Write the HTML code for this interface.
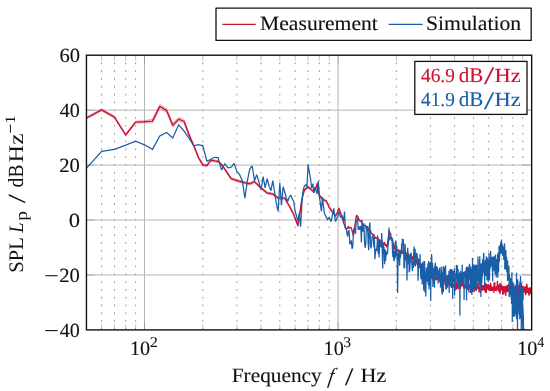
<!DOCTYPE html>
<html><head><meta charset="utf-8"><title>SPL spectrum</title>
<style>html,body{margin:0;padding:0;background:#fff;width:550px;height:391px;overflow:hidden;font-family:"Liberation Serif",serif;}</style></head>
<body>
<svg width="550" height="391" viewBox="0 0 550 391" style="display:block;position:absolute;left:0;top:0;will-change:transform;text-rendering:geometricPrecision;font-family:'Liberation Serif',serif;">
<rect x="0" y="0" width="550" height="391" fill="#fff"/>
<defs><clipPath id="c"><rect x="86.45" y="55.2" width="445.2" height="274.7"/></clipPath><mask id="tm" maskUnits="userSpaceOnUse" x="0" y="0" width="550" height="391"><rect x="0" y="0" width="550" height="391" fill="#fff"/></mask></defs>
<path d="M101.56,329.9 V55.2 M114.51,329.9 V55.2 M125.74,329.9 V55.2 M135.64,329.9 V55.2 M202.77,329.9 V55.2 M236.86,329.9 V55.2 M261.04,329.9 V55.2 M279.80,329.9 V55.2 M295.13,329.9 V55.2 M308.09,329.9 V55.2 M319.32,329.9 V55.2 M329.22,329.9 V55.2 M396.35,329.9 V55.2 M430.43,329.9 V55.2 M454.62,329.9 V55.2 M473.38,329.9 V55.2 M488.71,329.9 V55.2 M501.66,329.9 V55.2 M512.89,329.9 V55.2 M522.79,329.9 V55.2" stroke="#969696" stroke-width="1" stroke-dasharray="1.7 6.11" stroke-dashoffset="7.66" fill="none"/>
<path d="M144.50,329.9 V55.2 M338.07,329.9 V55.2 M86.45,110.14 H531.65 M86.45,165.08 H531.65 M86.45,220.02 H531.65 M86.45,274.96 H531.65" stroke="#b2b2b2" stroke-width="0.95" fill="none"/>
<path d="M144.50,329.9 v-8.2 M144.50,55.2 v8.2 M338.07,329.9 v-8.2 M338.07,55.2 v8.2 M86.45,110.14 h8.2 M531.65,110.14 h-8.2 M86.45,165.08 h8.2 M531.65,165.08 h-8.2 M86.45,220.02 h8.2 M531.65,220.02 h-8.2 M86.45,274.96 h8.2 M531.65,274.96 h-8.2" stroke="#808080" stroke-width="0.5" fill="none"/>
<path d="M101.56,329.9 v-5.4 M101.56,55.2 v5.4 M114.51,329.9 v-5.4 M114.51,55.2 v5.4 M125.74,329.9 v-5.4 M125.74,55.2 v5.4 M135.64,329.9 v-5.4 M135.64,55.2 v5.4 M202.77,329.9 v-5.4 M202.77,55.2 v5.4 M236.86,329.9 v-5.4 M236.86,55.2 v5.4 M261.04,329.9 v-5.4 M261.04,55.2 v5.4 M279.80,329.9 v-5.4 M279.80,55.2 v5.4 M295.13,329.9 v-5.4 M295.13,55.2 v5.4 M308.09,329.9 v-5.4 M308.09,55.2 v5.4 M319.32,329.9 v-5.4 M319.32,55.2 v5.4 M329.22,329.9 v-5.4 M329.22,55.2 v5.4 M396.35,329.9 v-5.4 M396.35,55.2 v5.4 M430.43,329.9 v-5.4 M430.43,55.2 v5.4 M454.62,329.9 v-5.4 M454.62,55.2 v5.4 M473.38,329.9 v-5.4 M473.38,55.2 v5.4 M488.71,329.9 v-5.4 M488.71,55.2 v5.4 M501.66,329.9 v-5.4 M501.66,55.2 v5.4 M512.89,329.9 v-5.4 M512.89,55.2 v5.4 M522.79,329.9 v-5.4 M522.79,55.2 v5.4" stroke="#808080" stroke-width="0.45" fill="none"/>
<g clip-path="url(#c)" fill="none" stroke-linejoin="round">
<path d="M86.2,119.3 L101.6,110.9 L114.5,118.3 L125.7,136.1 L135.6,123.2 L144.5,122.8 L152.5,123.1 L159.8,108.4 L166.6,112.4 L172.8,127.2 L178.6,121.2 L184.0,123.3 L189.1,137.0 L193.9,147.1 L198.5,158.7 L202.8,166.0 L206.9,166.7 L210.8,161.3 L214.5,162.0 L218.1,162.6 L221.5,165.6 L224.8,170.3 L228.0,175.1 L231.1,179.8 L234.0,180.7 L236.9,181.6 L239.6,182.4 L242.3,183.1 L244.9,183.8 L247.4,184.4 L249.8,184.9 L252.2,183.8 L254.5,182.8 L256.7,184.9 L258.9,187.0 L261.0,189.0 L263.1,190.7 L265.1,192.4 L267.1,194.1 L269.1,194.4 L270.9,194.8 L272.8,195.1 L274.6,196.5 L276.4,197.9 L278.1,199.2 L279.8,199.2 L281.5,199.2 L283.1,199.2 L284.7,199.2 L286.3,201.9 L287.8,204.5 L289.3,207.1 L290.8,210.0 L292.3,212.8 L293.7,215.6 L295.1,219.3 L296.5,223.0 L297.9,226.6 L299.2,218.6 L300.6,209.3 L301.9,200.2 L303.1,195.6 L304.4,191.0 L305.7,190.0 L306.9,188.9 L308.1,187.9 L309.3,189.0 L310.5,190.0 L311.6,191.0 L312.8,192.1 L313.9,193.1 L315.0,191.0 L316.1,189.0 L317.2,184.9 L318.3,190.5 L319.3,196.1 L320.4,197.5 L321.4,198.9 L322.4,200.2 L323.4,200.7 L324.4,201.3 L325.4,201.8 L326.4,202.3 L327.3,204.4 L328.3,206.4 L329.2,208.4 L330.1,209.8 L331.1,211.1 L332.0,212.5 L332.9,213.6 L333.8,214.7 L334.6,215.8 L335.5,216.9 L336.4,215.5 L337.2,214.1 L338.1,211.6" stroke="#cc1233" stroke-opacity="0.45" stroke-width="0.7"/>
<path d="M86.2,117.1 L101.6,108.7 L114.5,116.1 L125.7,133.9 L135.6,121.0 L144.5,120.6 L152.5,119.1 L159.8,104.4 L166.6,108.4 L172.8,123.2 L178.6,117.2 L184.0,119.3 L189.1,133.0 L193.9,144.9 L198.5,156.5 L202.8,163.8 L206.9,164.5 L210.8,159.1 L214.5,159.8 L218.1,160.4 L221.5,163.4 L224.8,168.1 L228.0,172.9 L231.1,177.6 L234.0,178.5 L236.9,179.4 L239.6,180.2 L242.3,180.9 L244.9,181.6 L247.4,182.2 L249.8,182.7 L252.2,181.6 L254.5,180.6 L256.7,182.7 L258.9,184.8 L261.0,186.8 L263.1,188.5 L265.1,190.2 L267.1,191.9 L269.1,192.2 L270.9,192.6 L272.8,192.9 L274.6,194.3 L276.4,195.7 L278.1,197.0 L279.8,197.0 L281.5,197.0 L283.1,197.0 L284.7,197.0 L286.3,199.7 L287.8,202.3 L289.3,204.9 L290.8,207.8 L292.3,210.6 L293.7,213.4 L295.1,217.1 L296.5,220.8 L297.9,224.4 L299.2,216.4 L300.6,207.1 L301.9,198.0 L303.1,193.4 L304.4,188.8 L305.7,187.8 L306.9,186.7 L308.1,185.7 L309.3,186.8 L310.5,187.8 L311.6,188.8 L312.8,189.9 L313.9,190.9 L315.0,188.8 L316.1,186.8 L317.2,182.7 L318.3,188.3 L319.3,193.9 L320.4,195.3 L321.4,196.7 L322.4,198.0 L323.4,198.5 L324.4,199.1 L325.4,199.6 L326.4,200.1 L327.3,202.2 L328.3,204.2 L329.2,206.2 L330.1,207.6 L331.1,208.9 L332.0,210.3 L332.9,211.4 L333.8,212.5 L334.6,213.6 L335.5,214.7 L336.4,213.3 L337.2,211.9 L338.1,209.4" stroke="#cc1233" stroke-opacity="0.45" stroke-width="0.7"/>
<path d="M86.2,119.3 L101.6,110.9 L114.5,118.3 L125.7,136.1 L135.6,123.2 L144.5,122.8 L152.5,123.1 L159.8,108.4 L166.6,112.4 L172.8,127.2 L178.6,121.2 L184.0,123.3 L189.1,137.0 L193.9,147.1 L198.5,158.7 L202.8,166.0 L206.9,166.7 L210.8,161.3 L214.5,162.0 L218.1,162.6 L221.5,165.6 L224.8,170.3 L228.0,175.1 L231.1,179.8 L234.0,180.7 L236.9,181.6 L239.6,182.4 L242.3,183.1 L244.9,183.8 L247.4,184.4 L249.8,184.9 L252.2,183.8 L254.5,182.8 L256.7,184.9 L258.9,187.0 L261.0,189.0 L263.1,190.7 L265.1,192.4 L267.1,194.1 L269.1,194.4 L270.9,194.8 L272.8,195.1 L274.6,196.5 L276.4,197.9 L278.1,199.2 L279.8,199.2 L281.5,199.2 L283.1,199.2 L284.7,199.2 L286.3,201.9 L287.8,204.5 L289.3,207.1 L290.8,210.0 L292.3,212.8 L293.7,215.6 L295.1,219.3 L296.5,223.0 L297.9,226.6 L299.2,218.6 L300.6,209.3 L301.9,200.2 L303.1,195.6 L304.4,191.0 L305.7,190.0 L306.9,188.9 L308.1,187.9 L309.3,189.0 L310.5,190.0 L311.6,191.0 L312.8,192.1 L313.9,193.1 L315.0,191.0 L316.1,189.0 L317.2,184.9 L318.3,190.5 L319.3,196.1 L320.4,197.5 L321.4,198.9 L322.4,200.2 L323.4,200.7 L324.4,201.3 L325.4,201.8 L326.4,202.3 L327.3,204.4 L328.3,206.4 L329.2,208.4 L330.1,209.8 L331.1,211.1 L332.0,212.5 L332.9,213.6 L333.8,214.7 L334.6,215.8 L335.5,216.9 L336.4,215.5 L337.2,214.1 L338.1,211.6 L338.1,209.4 L337.2,211.9 L336.4,213.3 L335.5,214.7 L334.6,213.6 L333.8,212.5 L332.9,211.4 L332.0,210.3 L331.1,208.9 L330.1,207.6 L329.2,206.2 L328.3,204.2 L327.3,202.2 L326.4,200.1 L325.4,199.6 L324.4,199.1 L323.4,198.5 L322.4,198.0 L321.4,196.7 L320.4,195.3 L319.3,193.9 L318.3,188.3 L317.2,182.7 L316.1,186.8 L315.0,188.8 L313.9,190.9 L312.8,189.9 L311.6,188.8 L310.5,187.8 L309.3,186.8 L308.1,185.7 L306.9,186.7 L305.7,187.8 L304.4,188.8 L303.1,193.4 L301.9,198.0 L300.6,207.1 L299.2,216.4 L297.9,224.4 L296.5,220.8 L295.1,217.1 L293.7,213.4 L292.3,210.6 L290.8,207.8 L289.3,204.9 L287.8,202.3 L286.3,199.7 L284.7,197.0 L283.1,197.0 L281.5,197.0 L279.8,197.0 L278.1,197.0 L276.4,195.7 L274.6,194.3 L272.8,192.9 L270.9,192.6 L269.1,192.2 L267.1,191.9 L265.1,190.2 L263.1,188.5 L261.0,186.8 L258.9,184.8 L256.7,182.7 L254.5,180.6 L252.2,181.6 L249.8,182.7 L247.4,182.2 L244.9,181.6 L242.3,180.9 L239.6,180.2 L236.9,179.4 L234.0,178.5 L231.1,177.6 L228.0,172.9 L224.8,168.1 L221.5,163.4 L218.1,160.4 L214.5,159.8 L210.8,159.1 L206.9,164.5 L202.8,163.8 L198.5,156.5 L193.9,144.9 L189.1,133.0 L184.0,119.3 L178.6,117.2 L172.8,123.2 L166.6,108.4 L159.8,104.4 L152.5,119.1 L144.5,120.6 L135.6,121.0 L125.7,133.9 L114.5,116.1 L101.6,108.7 L86.2,117.1 Z" fill="#cc1233" fill-opacity="0.12" stroke="none"/>
<path d="M86.2,118.2 L101.6,109.8 L114.5,117.2 L125.7,135.0 L135.6,122.1 L144.5,121.7 L152.5,121.1 L159.8,106.4 L166.6,110.4 L172.8,125.2 L178.6,119.2 L184.0,121.3 L189.1,135.0 L193.9,146.0 L198.5,157.6 L202.8,164.9 L206.9,165.6 L210.8,160.2 L214.5,160.9 L218.1,161.5 L221.5,164.5 L224.8,169.2 L228.0,174.0 L231.1,178.7 L234.0,179.6 L236.9,180.5 L239.6,181.3 L242.3,182.0 L244.9,182.7 L247.4,183.3 L249.8,183.8 L252.2,182.7 L254.5,181.7 L256.7,183.8 L258.9,185.9 L261.0,187.9 L263.1,189.6 L265.1,191.3 L267.1,193.0 L269.1,193.3 L270.9,193.7 L272.8,194.0 L274.6,195.4 L276.4,196.8 L278.1,198.1 L279.8,198.1 L281.5,198.1 L283.1,198.1 L284.7,198.1 L286.3,200.8 L287.8,203.4 L289.3,206.0 L290.8,208.9 L292.3,211.7 L293.7,214.5 L295.1,218.2 L296.5,221.9 L297.9,225.5 L299.2,217.5 L300.6,208.2 L301.9,199.1 L303.1,194.5 L304.4,189.9 L305.7,188.9 L306.9,187.8 L308.1,186.8 L309.3,187.9 L310.5,188.9 L311.6,189.9 L312.8,191.0 L313.9,192.0 L315.0,189.9 L316.1,187.9 L317.2,183.8 L318.3,189.4 L319.3,195.0 L320.4,196.4 L321.4,197.8 L322.4,199.1 L323.4,199.6 L324.4,200.2 L325.4,200.7 L326.4,201.2 L327.3,203.3 L328.3,205.3 L329.2,207.3 L330.1,208.7 L331.1,210.0 L332.0,211.4 L332.9,212.5 L333.8,213.6 L334.6,214.7 L335.5,215.8 L336.4,214.4 L337.2,213.0 L338.1,210.5 L338.9,208.2 L339.7,210.6 L340.6,212.9 L341.4,215.6 L342.2,217.9 L343.0,220.5 L343.8,223.5 L344.5,224.9 L345.3,227.3 L346.1,228.6 L346.8,228.9 L347.6,228.4 L348.3,226.5 L349.1,228.2 L349.8,227.5 L350.6,227.7 L351.3,228.1 L352.0,230.3 L352.7,233.1 L353.4,235.6 L354.1,231.4 L354.8,226.4 L355.5,222.1 L356.2,216.4 L356.8,215.4 L357.5,216.6 L358.2,216.8 L358.8,219.8 L359.5,220.0 L360.1,221.4 L360.8,220.8 L361.4,221.6 L362.0,222.8 L362.7,223.8 L363.3,225.0 L363.9,225.3 L364.5,225.3 L365.2,225.5 L365.8,226.4 L366.4,228.4 L367.0,227.4 L367.6,228.9 L368.1,229.6 L368.7,228.6 L369.3,230.6 L369.9,232.4 L370.5,230.6 L371.0,232.7 L371.6,233.6 L372.2,233.6 L372.7,235.1 L373.3,235.1 L373.8,234.4 L374.4,236.6 L374.9,236.9 L375.5,237.5 L376.0,238.3 L376.5,238.0 L377.1,238.4 L377.6,237.7 L378.1,239.8 L378.6,239.3 L379.1,240.0 L379.7,239.9 L380.2,240.6 L380.7,241.3 L381.2,243.1 L381.7,240.8 L382.2,241.6 L382.7,243.4 L383.2,244.7 L383.7,244.3 L384.2,242.7 L384.6,242.6 L385.1,245.2 L385.6,244.6 L386.1,244.6 L386.6,246.6 L387.0,247.1 L387.5,244.1 L388.0,240.3 L388.4,236.7 L388.9,233.8 L389.3,230.9 L389.8,232.3 L390.2,233.9 L390.7,233.8 L391.1,237.6 L391.6,238.8 L392.0,239.9 L392.5,239.4 L392.9,241.9 L393.4,244.5 L393.8,243.8 L394.2,246.6 L394.6,248.3 L395.1,246.8 L395.5,249.5 L395.9,249.0 L396.3,248.7 L396.8,249.5 L397.2,250.0 L397.6,250.0 L398.0,251.1 L398.4,250.0 L398.8,250.3 L399.2,251.6 L399.6,251.0 L400.0,250.4 L400.4,252.0 L400.8,252.6 L401.2,251.2 L401.6,250.6 L402.0,251.7 L402.4,251.9 L402.8,251.8 L403.2,253.3 L403.6,251.5 L404.0,253.4 L404.4,251.5 L404.7,252.0 L405.1,253.2 L405.5,253.7 L405.9,253.6 L406.2,253.3 L406.6,253.2 L407.0,253.3 L407.4,253.7 L407.7,253.4 L408.1,254.1 L408.5,254.6 L408.8,254.5 L409.2,255.4 L409.5,255.6 L409.9,257.1 L410.3,256.0 L410.6,255.7 L411.0,256.1 L411.3,256.7 L411.7,257.8 L412.0,257.1 L412.4,258.0 L412.7,259.4 L413.1,256.2 L413.4,257.7 L413.8,259.1 L414.1,259.5 L414.4,259.7 L414.8,259.4 L415.1,260.9 L415.4,260.7 L415.8,260.0 L416.1,264.1 L416.4,261.7 L416.8,260.8 L417.1,261.6 L417.4,261.7 L417.8,262.2 L418.1,259.0 L418.4,262.2 L418.7,264.4 L419.0,261.9 L419.4,263.6 L419.7,265.2 L420.0,265.4 L420.3,266.7 L420.6,263.1 L421.0,265.3 L421.3,265.9 L421.6,267.6 L421.9,268.7 L422.2,264.3 L422.5,269.7 L422.8,266.9 L423.1,270.2 L423.4,267.8 L423.7,270.5 L424.0,272.3 L424.3,270.8 L424.6,271.6 L424.9,272.7 L425.2,272.1 L425.5,272.1 L425.8,274.5 L426.1,274.2 L426.4,272.7 L426.7,277.0 L427.0,272.2 L427.3,275.2 L427.6,273.9 L427.9,274.7 L428.2,275.8 L428.4,275.3 L428.7,276.0 L429.0,273.3 L429.3,273.5 L429.6,276.4 L429.9,274.5 L430.2,274.5 L430.4,274.1 L430.7,277.8 L431.0,277.2 L431.3,276.4 L431.5,275.1 L431.8,275.5 L432.1,278.8 L432.4,274.4 L432.6,278.9 L432.9,277.7 L433.2,277.9 L433.5,279.0 L433.7,279.6 L434.0,276.8 L434.3,283.5 L434.5,277.7 L434.8,279.4 L435.1,277.7 L435.3,278.5 L435.6,279.3 L435.9,277.6 L436.1,278.0 L436.4,279.6 L436.6,277.9 L436.9,279.8 L437.2,278.0 L437.4,276.5 L437.7,278.8 L437.9,279.1 L438.2,278.2 L438.4,277.9 L438.7,278.7 L439.0,279.3 L439.2,278.6 L439.5,278.9 L439.7,281.5 L440.0,279.5 L440.2,276.6 L440.5,277.9 L440.7,279.5 L441.0,278.1 L441.2,279.3 L441.4,281.9 L441.7,277.6 L441.9,282.1 L442.2,279.0 L442.4,279.5 L442.7,280.2 L442.9,279.1 L443.2,278.3 L443.4,280.0 L443.6,278.6 L443.9,281.5 L444.1,280.5 L444.3,276.9 L444.6,281.3 L444.8,279.6 L445.1,281.8 L445.3,284.8 L445.5,279.0 L445.8,280.6 L446.0,288.4 L446.2,281.5 L446.5,284.0 L446.7,282.1 L446.9,281.0 L447.2,284.1 L447.4,280.9 L447.6,283.8 L447.8,281.6 L448.1,284.4 L448.3,283.3 L448.5,284.4 L448.7,282.1 L449.0,283.2 L449.2,282.6 L449.4,282.3 L449.6,284.6 L449.9,284.4 L450.1,284.6 L450.3,283.8 L450.5,284.0 L450.7,283.0 L451.0,285.9 L451.2,286.9 L451.4,284.0 L451.6,284.4 L451.8,284.8 L452.1,285.7 L452.3,285.0 L452.5,283.3 L452.7,283.4 L452.9,285.7 L453.1,283.5 L453.3,286.9 L453.6,285.4 L453.8,285.2 L454.0,285.2 L454.2,285.2 L454.4,285.4 L454.6,284.2 L454.8,283.6 L455.0,283.9 L455.2,285.2 L455.5,289.9 L455.7,283.8 L455.9,286.6 L456.1,282.2 L456.3,286.5 L456.5,289.1 L456.7,285.0 L456.9,288.4 L457.1,285.3 L457.3,283.1 L457.5,283.9 L457.7,284.3 L457.9,281.3 L458.1,286.2 L458.3,285.1 L458.5,288.6 L458.7,286.2 L458.9,284.9 L459.1,281.8 L459.3,281.6 L459.5,285.1 L459.7,281.8 L459.9,283.2 L460.1,285.3 L460.3,285.8 L460.5,288.2 L460.7,287.5 L460.9,283.3 L461.1,284.8 L461.3,282.4 L461.5,281.7 L461.7,285.3 L461.9,284.0 L462.1,285.3 L462.2,284.2 L462.4,283.6 L462.6,285.5 L462.8,285.8 L463.0,282.9 L463.2,286.4 L463.4,286.7 L463.6,285.1 L463.8,285.2 L464.0,288.4 L464.1,285.0 L464.3,287.8 L464.5,288.6 L464.7,288.3 L464.9,285.9 L465.1,285.5 L465.3,287.7 L465.4,285.2 L465.6,286.9 L465.8,285.2 L466.0,281.1 L466.2,285.0 L466.4,281.8 L466.6,285.5 L466.7,285.4 L466.9,288.0 L467.1,285.8 L467.3,286.9 L467.5,287.1 L467.6,289.0 L467.8,285.9 L468.0,288.5 L468.2,284.5 L468.4,284.6 L468.5,287.3 L468.7,284.7 L468.9,292.1 L469.1,288.1 L469.2,287.3 L469.4,285.5 L469.6,286.7 L469.8,287.8 L469.9,287.1 L470.1,283.6 L470.3,281.8 L470.5,285.9 L470.6,284.1 L470.8,286.1 L471.0,286.8 L471.2,284.5 L471.3,286.6 L471.5,287.7 L471.7,286.1 L471.9,284.5 L472.0,285.7 L472.2,287.4 L472.4,290.4 L472.5,291.7 L472.7,282.9 L472.9,286.7 L473.0,287.2 L473.2,286.6 L473.4,288.0 L473.5,286.5 L473.7,284.6 L473.9,287.2 L474.0,285.7 L474.2,291.5 L474.4,284.0 L474.5,283.9 L474.7,286.7 L474.9,288.6 L475.0,284.0 L475.2,289.7 L475.4,287.3 L475.5,286.7 L475.7,286.8 L475.9,288.5 L476.0,283.5 L476.2,287.7 L476.4,287.6 L476.5,289.7 L476.7,285.8 L476.8,285.6 L477.0,287.2 L477.2,285.6 L477.3,286.6 L477.5,287.9 L477.6,286.7 L477.8,286.2 L478.0,285.4 L478.1,286.1 L478.3,288.7 L478.4,287.2 L478.6,284.7 L478.8,284.0 L478.9,287.3 L479.1,292.0 L479.2,289.4 L479.4,287.5 L479.5,287.1 L479.7,290.1 L479.8,289.0 L480.0,287.7 L480.2,288.4 L480.3,290.5 L480.5,288.7 L480.6,292.2 L480.8,287.5 L480.9,288.7 L481.1,289.5 L481.2,286.7 L481.4,284.9 L481.5,288.8 L481.7,286.4 L481.8,288.2 L482.0,288.1 L482.2,287.6 L482.3,289.7 L482.5,285.4 L482.6,286.9 L482.8,288.5 L482.9,290.2 L483.1,288.0 L483.2,288.5 L483.4,287.2 L483.5,289.2 L483.7,288.8 L483.8,287.2 L483.9,285.5 L484.1,285.7 L484.2,287.9 L484.4,289.7 L484.5,284.6 L484.7,290.5 L484.8,287.7 L485.0,287.5 L485.1,290.8 L485.3,286.9 L485.4,292.4 L485.6,287.3 L485.7,286.3 L485.9,283.4 L486.0,288.1 L486.1,287.5 L486.3,292.2 L486.4,286.4 L486.6,285.7 L486.7,288.6 L486.9,288.7 L487.0,284.8 L487.2,286.4 L487.3,286.7 L487.4,287.9 L487.6,287.0 L487.7,288.9 L487.9,286.2 L488.0,287.2 L488.1,289.3 L488.3,287.7 L488.4,284.8 L488.6,287.8 L488.7,285.5 L488.8,289.2 L489.0,289.4 L489.1,285.5 L489.3,287.2 L489.4,290.2 L489.5,288.3 L489.7,289.2 L489.8,289.8 L490.0,286.2 L490.1,290.2 L490.2,287.8 L490.4,284.6 L490.5,283.1 L490.6,289.5 L490.8,284.2 L490.9,288.9 L491.1,290.4 L491.2,287.5 L491.3,289.4 L491.5,286.4 L491.6,288.8 L491.7,287.7 L491.9,288.4 L492.0,289.8 L492.1,287.9 L492.3,290.6 L492.4,289.7 L492.5,288.2 L492.7,287.6 L492.8,289.3 L492.9,288.9 L493.1,288.4 L493.2,287.6 L493.3,287.5 L493.5,286.8 L493.6,288.9 L493.7,287.2 L493.9,290.4 L494.0,292.4 L494.1,283.3 L494.3,286.0 L494.4,289.8 L494.5,287.0 L494.7,289.7 L494.8,282.7 L494.9,287.3 L495.0,290.4 L495.2,289.6 L495.3,289.2 L495.4,289.5 L495.6,289.9 L495.7,289.6 L495.8,288.6 L496.0,289.2 L496.1,287.6 L496.2,288.3 L496.3,290.5 L496.5,286.8 L496.6,288.6 L496.7,287.0 L496.8,288.9 L497.0,287.3 L497.1,286.5 L497.2,288.1 L497.4,281.4 L497.5,283.5 L497.6,288.9 L497.7,287.6 L497.9,287.2 L498.0,287.2 L498.1,285.9 L498.2,289.6 L498.4,291.0 L498.5,288.8 L498.6,288.7 L498.7,285.1 L498.9,287.5 L499.0,288.6 L499.1,290.2 L499.2,288.8 L499.4,287.9 L499.5,285.3 L499.6,286.6 L499.7,288.4 L499.8,292.4 L500.0,283.5 L500.1,290.4 L500.2,293.6 L500.3,289.5 L500.5,288.0 L500.6,290.2 L500.7,289.3 L500.8,289.8 L500.9,287.6 L501.1,284.3 L501.2,288.5 L501.3,286.8 L501.4,289.1 L501.5,289.6 L501.7,289.5 L501.8,287.9 L501.9,286.0 L502.0,288.1 L502.1,286.3 L502.3,287.8 L502.4,291.3 L502.5,288.5 L502.6,288.1 L502.7,294.4 L502.9,288.9 L503.0,286.6 L503.1,292.1 L503.2,289.8 L503.3,291.2 L503.4,288.5 L503.6,289.2 L503.7,288.7 L503.8,286.7 L503.9,289.7 L504.0,293.5 L504.1,290.5 L504.3,288.8 L504.4,289.2 L504.5,291.3 L504.6,287.3 L504.7,287.3 L504.8,288.9 L505.0,289.9 L505.1,291.1 L505.2,286.4 L505.3,291.6 L505.4,289.0 L505.5,287.6 L505.7,287.2 L505.8,295.4 L505.9,287.0 L506.0,288.6 L506.1,288.6 L506.2,289.9 L506.3,288.5 L506.5,286.2 L506.6,288.8 L506.7,290.7 L506.8,291.5 L506.9,289.6 L507.0,286.3 L507.1,288.8 L507.2,286.9 L507.4,289.0 L507.5,289.5 L507.6,287.7 L507.7,285.5 L507.8,287.1 L507.9,288.3 L508.0,288.7 L508.1,291.7 L508.2,289.3 L508.4,288.8 L508.5,288.9 L508.6,284.5 L508.7,290.3 L508.8,287.9 L508.9,287.1 L509.0,286.9 L509.1,285.5 L509.2,289.8 L509.3,286.3 L509.5,290.3 L509.6,289.7 L509.7,291.7 L509.8,289.4 L509.9,289.5 L510.0,289.9 L510.1,292.0 L510.2,289.9 L510.3,289.1 L510.4,288.5 L510.5,290.6 L510.7,290.5 L510.8,286.1 L510.9,290.2 L511.0,293.2 L511.1,286.4 L511.2,290.4 L511.3,286.8 L511.4,291.8 L511.5,291.1 L511.6,288.9 L511.7,289.4 L511.8,288.9 L511.9,287.5 L512.0,285.6 L512.2,286.4 L512.3,290.3 L512.4,287.6 L512.5,291.7 L512.6,289.8 L512.7,288.7 L512.8,290.6 L512.9,289.3 L513.0,291.5 L513.1,289.4 L513.2,290.2 L513.3,291.4 L513.4,289.0 L513.5,293.9 L513.6,288.7 L513.7,287.3 L513.8,292.3 L513.9,291.0 L514.0,288.2 L514.1,288.1 L514.2,290.0 L514.3,289.5 L514.5,290.8 L514.6,287.6 L514.7,289.4 L514.8,287.2 L514.9,290.0 L515.0,288.4 L515.1,288.1 L515.2,291.0 L515.3,287.1 L515.4,286.4 L515.5,290.7 L515.6,285.6 L515.7,290.4 L515.8,288.6 L515.9,292.3 L516.0,290.3 L516.1,290.7 L516.2,290.4 L516.3,291.0 L516.4,289.4 L516.5,288.7 L516.6,285.5 L516.7,293.2 L516.8,288.4 L516.9,290.1 L517.0,293.0 L517.1,286.9 L517.2,291.6 L517.3,288.2 L517.4,288.0 L517.5,287.0 L517.6,291.4 L517.7,286.8 L517.8,288.2 L517.9,289.0 L518.0,285.8 L518.1,291.4 L518.2,287.4 L518.3,288.6 L518.4,292.1 L518.5,290.3 L518.6,286.7 L518.7,287.8 L518.8,290.7 L518.9,287.7 L519.0,285.8 L519.1,290.0 L519.2,287.9 L519.3,292.0 L519.4,290.3 L519.5,291.9 L519.6,288.9 L519.7,286.8 L519.7,289.0 L519.8,290.9 L519.9,287.7 L520.0,290.5 L520.1,292.6 L520.2,293.7 L520.3,293.1 L520.4,289.0 L520.5,290.8 L520.6,288.9 L520.7,291.0 L520.8,292.0 L520.9,289.0 L521.0,288.8 L521.1,290.7 L521.2,290.8 L521.3,287.3 L521.4,290.6 L521.5,294.7 L521.6,291.3 L521.7,286.7 L521.8,288.9 L521.9,289.6 L521.9,290.8 L522.0,288.7 L522.1,289.7 L522.2,289.6 L522.3,288.4 L522.4,287.9 L522.5,290.2 L522.6,287.1 L522.7,296.3 L522.8,286.3 L522.9,292.2 L523.0,300.1 L523.1,290.3 L523.2,290.0 L523.3,290.9 L523.4,290.3 L523.4,288.3 L523.5,290.3 L523.6,288.9 L523.7,290.6 L523.8,287.2 L523.9,290.7 L524.0,289.0 L524.1,289.9 L524.2,288.0 L524.3,289.9 L524.4,291.4 L524.5,292.0 L524.5,290.8 L524.6,287.7 L524.7,291.9 L524.8,288.3 L524.9,288.2 L525.0,287.0 L525.1,290.8 L525.2,289.9 L525.3,292.7 L525.4,290.6 L525.5,287.5 L525.5,294.8 L525.6,290.5 L525.7,289.8 L525.8,288.1 L525.9,293.4 L526.0,286.9 L526.1,289.6 L526.2,288.0 L526.3,291.3 L526.4,291.1 L526.4,288.5 L526.5,285.0 L526.6,290.0 L526.7,289.4 L526.8,291.7 L526.9,284.1 L527.0,289.5 L527.1,286.2 L527.2,290.4 L527.2,292.5 L527.3,289.0 L527.4,292.4 L527.5,288.8 L527.6,289.4 L527.7,287.8 L527.8,289.2 L527.9,288.4 L528.0,290.5 L528.0,290.8 L528.1,289.3 L528.2,288.8 L528.3,288.9 L528.4,289.7 L528.5,289.5 L528.6,292.1 L528.7,293.9 L528.7,292.9 L528.8,292.7 L528.9,290.0 L529.0,290.4 L529.1,295.3 L529.2,288.3 L529.3,292.5 L529.3,292.0 L529.4,290.6 L529.5,290.4 L529.6,291.2 L529.7,290.2 L529.8,293.4 L529.9,290.7 L530.0,290.6 L530.0,291.0 L530.1,292.3 L530.2,288.0 L530.3,289.9 L530.4,288.4 L530.5,292.3 L530.5,293.2 L530.6,290.7 L530.7,289.3 L530.8,293.3 L530.9,289.8 L531.0,290.5 L531.1,287.8 L531.1,291.6 L531.2,288.7 L531.3,292.6 L531.4,288.0 L531.5,292.7 L531.6,288.0 L531.6,293.4" stroke="#cc1233" stroke-width="1.4"/>
<path d="M86.2,168.7 L101.6,151.3 L114.5,149.3 L125.7,145.2 L135.6,141.1 L144.5,144.8 L152.5,149.3 L159.8,136.0 L166.6,132.5 L172.8,138.0 L178.6,124.8 L184.0,130.9 L189.1,138.5 L193.9,145.8 L198.5,144.6 L202.8,145.8 L206.9,161.2 L210.8,159.2 L214.5,157.3 L218.1,157.6 L221.5,169.9 L224.8,163.8 L228.0,167.9 L231.1,167.3 L234.0,163.3 L236.9,171.5 L239.6,174.5 L242.3,180.7 L244.9,198.1 L247.4,180.7 L249.8,168.8 L252.2,166.0 L254.5,180.7 L256.7,174.6 L258.9,182.0 L261.0,189.9 L263.1,176.6 L265.1,187.9 L267.1,178.7 L269.1,186.0 L270.9,190.9 L272.8,180.7 L274.6,192.0 L276.4,204.0 L278.1,211.4 L279.8,182.7 L281.5,205.3 L283.1,186.8 L284.7,192.0 L286.3,198.0 L287.8,201.2 L289.3,197.0 L290.8,195.0 L292.3,199.0 L293.7,201.2 L295.1,211.0 L296.5,216.0 L297.9,221.5 L299.2,213.4 L300.6,226.7 L301.9,203.2 L303.1,190.0 L304.4,186.0 L305.7,184.8 L306.9,186.8 L308.1,164.3 L309.3,172.0 L310.5,178.6 L311.6,187.9 L312.8,183.8 L313.9,193.0 L315.0,186.8 L316.1,190.4 L317.2,194.0 L318.3,180.7 L319.3,196.0 L320.4,203.7 L321.4,211.4 L322.4,197.1 L323.4,205.3 L324.4,213.4 L325.4,215.5 L326.4,217.6 L327.3,219.6 L328.3,218.5 L329.2,217.5 L330.1,219.6 L331.1,221.6 L332.0,217.1 L332.9,212.7 L333.8,208.3 L334.6,215.0 L335.5,221.6 L336.4,219.5 L337.2,217.5 L338.1,215.5 L338.9,211.4 L339.7,214.5 L340.6,217.5 L341.4,216.5 L342.2,215.5 L343.0,218.3 L343.8,221.0 L344.5,211.6 L345.3,228.4 L346.1,228.2 L346.8,232.7 L347.6,236.5 L348.3,230.9 L349.1,230.8 L349.8,244.1 L350.6,243.2 L351.3,240.3 L352.0,248.6 L352.7,247.6 L353.4,233.1 L354.1,228.1 L354.8,229.2 L355.5,233.8 L356.2,220.3 L356.8,221.9 L357.5,217.7 L358.2,229.6 L358.8,226.7 L359.5,229.9 L360.1,226.0 L360.8,227.1 L361.4,242.4 L362.0,219.8 L362.7,231.5 L363.3,230.0 L363.9,223.3 L364.5,241.1 L365.2,247.9 L365.8,243.5 L366.4,225.6 L367.0,230.1 L367.6,225.9 L368.1,242.6 L368.7,250.3 L369.3,227.1 L369.9,222.4 L370.5,245.3 L371.0,248.4 L371.6,243.3 L372.2,235.7 L372.7,237.8 L373.3,236.5 L373.8,247.3 L374.4,236.7 L374.9,259.2 L375.5,251.9 L376.0,248.9 L376.5,251.0 L377.1,245.2 L377.6,235.2 L378.1,253.5 L378.6,239.2 L379.1,257.4 L379.7,240.1 L380.2,246.6 L380.7,241.3 L381.2,247.6 L381.7,232.9 L382.2,248.9 L382.7,268.4 L383.2,242.8 L383.7,245.7 L384.2,250.8 L384.6,264.2 L385.1,249.0 L385.6,260.9 L386.1,251.2 L386.6,255.1 L387.0,253.0 L387.5,253.6 L388.0,244.8 L388.4,244.4 L388.9,227.4 L389.3,240.4 L389.8,239.0 L390.2,236.3 L390.7,239.2 L391.1,237.6 L391.6,240.9 L392.0,237.3 L392.5,251.5 L392.9,257.3 L393.4,242.6 L393.8,260.3 L394.2,260.5 L394.6,251.2 L395.1,258.3 L395.5,241.4 L395.9,241.2 L396.3,256.4 L396.8,245.6 L397.2,259.3 L397.6,293.0 L398.0,264.7 L398.4,252.8 L398.8,254.7 L399.2,251.3 L399.6,265.8 L400.0,252.2 L400.4,258.0 L400.8,251.4 L401.2,254.2 L401.6,243.5 L402.0,254.3 L402.4,239.3 L402.8,239.5 L403.2,239.5 L403.6,244.1 L404.0,267.7 L404.4,268.2 L404.7,266.4 L405.1,244.1 L405.5,256.7 L405.9,260.4 L406.2,254.9 L406.6,255.0 L407.0,280.5 L407.4,256.6 L407.7,247.7 L408.1,255.0 L408.5,264.1 L408.8,256.1 L409.2,272.3 L409.5,271.3 L409.9,268.5 L410.3,254.1 L410.6,261.4 L411.0,252.6 L411.3,253.9 L411.7,263.2 L412.0,265.7 L412.4,271.3 L412.7,260.7 L413.1,261.9 L413.4,267.9 L413.8,250.5 L414.1,246.6 L414.4,265.4 L414.8,250.6 L415.1,248.8 L415.4,266.5 L415.8,254.0 L416.1,263.1 L416.4,252.7 L416.8,258.5 L417.1,253.6 L417.4,259.3 L417.8,267.7 L418.1,280.8 L418.4,267.2 L418.7,258.8 L419.0,261.9 L419.4,265.6 L419.7,267.9 L420.0,253.9 L420.3,265.8 L420.6,274.4 L421.0,279.2 L421.3,277.6 L421.6,267.9 L421.9,268.9 L422.2,284.5 L422.5,263.0 L422.8,265.7 L423.1,261.3 L423.4,273.3 L423.7,290.4 L424.0,283.0 L424.3,270.9 L424.6,260.9 L424.9,292.3 L425.2,272.4 L425.5,283.3 L425.8,296.5 L426.1,272.6 L426.4,267.5 L426.7,276.5 L427.0,281.8 L427.3,278.2 L427.6,275.1 L427.9,263.2 L428.2,285.1 L428.4,268.4 L428.7,260.9 L429.0,289.6 L429.3,275.0 L429.6,286.6 L429.9,262.8 L430.2,270.4 L430.4,262.0 L430.7,301.0 L431.0,264.8 L431.3,266.4 L431.5,254.1 L431.8,257.4 L432.1,273.5 L432.4,275.7 L432.6,263.1 L432.9,287.1 L433.2,271.0 L433.5,267.9 L433.7,272.5 L434.0,269.9 L434.3,282.1 L434.5,287.8 L434.8,265.4 L435.1,278.1 L435.3,262.5 L435.6,272.2 L435.9,275.5 L436.1,270.6 L436.4,265.9 L436.6,277.1 L436.9,271.4 L437.2,271.7 L437.4,267.3 L437.7,270.9 L437.9,273.1 L438.2,283.8 L438.4,270.6 L438.7,274.9 L439.0,271.4 L439.2,279.5 L439.5,267.7 L439.7,277.2 L440.0,276.0 L440.2,275.4 L440.5,287.6 L440.7,284.6 L441.0,271.3 L441.2,266.9 L441.4,271.0 L441.7,292.4 L441.9,283.8 L442.2,294.4 L442.4,294.1 L442.7,272.2 L442.9,278.5 L443.2,266.3 L443.4,291.9 L443.6,278.2 L443.9,284.1 L444.1,267.1 L444.3,279.3 L444.6,275.8 L444.8,269.1 L445.1,280.2 L445.3,273.6 L445.5,265.3 L445.8,276.6 L446.0,279.0 L446.2,289.6 L446.5,288.0 L446.7,283.3 L446.9,277.2 L447.2,275.7 L447.4,278.5 L447.6,287.8 L447.8,274.9 L448.1,279.7 L448.3,276.6 L448.5,282.0 L448.7,278.2 L449.0,270.9 L449.2,292.9 L449.4,280.3 L449.6,273.6 L449.9,275.5 L450.1,268.9 L450.3,274.2 L450.5,272.5 L450.7,286.4 L451.0,269.0 L451.2,281.1 L451.4,270.0 L451.6,287.9 L451.8,279.5 L452.1,269.5 L452.3,276.4 L452.5,278.6 L452.7,298.9 L452.9,271.1 L453.1,275.7 L453.3,270.9 L453.6,282.0 L453.8,281.6 L454.0,275.0 L454.2,274.5 L454.4,268.3 L454.6,295.5 L454.8,273.0 L455.0,282.4 L455.2,280.0 L455.5,278.7 L455.7,277.0 L455.9,282.3 L456.1,280.8 L456.3,268.4 L456.5,265.0 L456.7,276.4 L456.9,266.6 L457.1,278.2 L457.3,265.3 L457.5,282.4 L457.7,284.8 L457.9,274.4 L458.1,269.0 L458.3,287.3 L458.5,283.1 L458.7,277.4 L458.9,281.4 L459.1,274.5 L459.3,279.9 L459.5,277.3 L459.7,272.2 L459.9,315.4 L460.1,276.3 L460.3,273.6 L460.5,270.7 L460.7,281.5 L460.9,272.8 L461.1,274.2 L461.3,281.7 L461.5,276.4 L461.7,280.0 L461.9,283.0 L462.1,273.6 L462.2,264.6 L462.4,279.0 L462.6,274.9 L462.8,283.6 L463.0,275.4 L463.2,278.3 L463.4,272.6 L463.6,272.5 L463.8,277.2 L464.0,272.4 L464.1,300.0 L464.3,271.9 L464.5,274.1 L464.7,271.9 L464.9,271.8 L465.1,271.8 L465.3,278.0 L465.4,272.5 L465.6,270.7 L465.8,282.3 L466.0,271.4 L466.2,267.9 L466.4,288.6 L466.6,300.6 L466.7,266.8 L466.9,282.5 L467.1,271.7 L467.3,280.6 L467.5,271.1 L467.6,281.3 L467.8,266.4 L468.0,288.6 L468.2,290.0 L468.4,277.5 L468.5,277.2 L468.7,281.8 L468.9,273.0 L469.1,267.8 L469.2,280.6 L469.4,263.8 L469.6,270.7 L469.8,277.1 L469.9,265.4 L470.1,271.3 L470.3,277.6 L470.5,269.8 L470.6,292.9 L470.8,266.7 L471.0,273.7 L471.2,268.9 L471.3,271.8 L471.5,275.5 L471.7,270.0 L471.9,295.0 L472.0,274.7 L472.2,271.5 L472.4,273.5 L472.5,257.9 L472.7,270.3 L472.9,291.3 L473.0,276.4 L473.2,279.3 L473.4,276.2 L473.5,284.4 L473.7,266.8 L473.9,264.4 L474.0,284.6 L474.2,275.7 L474.4,282.4 L474.5,287.2 L474.7,279.0 L474.9,265.2 L475.0,274.8 L475.2,279.9 L475.4,284.3 L475.5,281.2 L475.7,269.5 L475.9,264.6 L476.0,271.1 L476.2,275.8 L476.4,291.2 L476.5,265.8 L476.7,281.1 L476.8,277.9 L477.0,270.7 L477.2,288.6 L477.3,265.1 L477.5,269.4 L477.6,266.0 L477.8,270.9 L478.0,256.6 L478.1,280.2 L478.3,270.3 L478.4,271.8 L478.6,281.5 L478.8,277.6 L478.9,284.6 L479.1,278.3 L479.2,281.7 L479.4,270.5 L479.5,260.0 L479.7,264.8 L479.8,256.3 L480.0,278.6 L480.2,286.1 L480.3,266.0 L480.5,279.8 L480.6,284.5 L480.8,267.4 L480.9,297.0 L481.1,263.7 L481.2,266.8 L481.4,264.2 L481.5,263.3 L481.7,267.9 L481.8,283.7 L482.0,276.5 L482.2,264.5 L482.3,272.3 L482.5,276.5 L482.6,259.3 L482.8,269.6 L482.9,273.6 L483.1,269.4 L483.2,269.9 L483.4,258.0 L483.5,254.1 L483.7,264.2 L483.8,252.7 L483.9,265.1 L484.1,261.7 L484.2,262.8 L484.4,274.3 L484.5,268.4 L484.7,285.4 L484.8,267.5 L485.0,269.5 L485.1,267.0 L485.3,275.7 L485.4,260.1 L485.6,266.9 L485.7,270.7 L485.9,276.0 L486.0,261.8 L486.1,269.8 L486.3,256.2 L486.4,264.9 L486.6,260.2 L486.7,266.9 L486.9,269.6 L487.0,280.2 L487.2,258.1 L487.3,258.1 L487.4,264.0 L487.6,263.6 L487.7,267.9 L487.9,263.3 L488.0,264.1 L488.1,281.7 L488.3,259.7 L488.4,269.6 L488.6,273.6 L488.7,266.0 L488.8,273.6 L489.0,252.7 L489.1,265.2 L489.3,280.2 L489.4,269.4 L489.5,280.5 L489.7,262.9 L489.8,263.4 L490.0,260.3 L490.1,268.6 L490.2,266.2 L490.4,257.7 L490.5,262.3 L490.6,250.9 L490.8,261.0 L490.9,259.7 L491.1,263.3 L491.2,260.4 L491.3,265.5 L491.5,266.5 L491.6,259.1 L491.7,262.1 L491.9,260.1 L492.0,256.5 L492.1,259.6 L492.3,268.2 L492.4,271.7 L492.5,258.3 L492.7,281.6 L492.8,264.8 L492.9,257.1 L493.1,268.2 L493.2,266.0 L493.3,261.9 L493.5,265.4 L493.6,257.2 L493.7,270.8 L493.9,265.9 L494.0,262.4 L494.1,264.6 L494.3,256.1 L494.4,262.3 L494.5,263.0 L494.7,259.5 L494.8,262.7 L494.9,271.5 L495.0,268.7 L495.2,274.7 L495.3,254.4 L495.4,267.7 L495.6,265.0 L495.7,268.0 L495.8,271.6 L496.0,268.6 L496.1,267.3 L496.2,277.4 L496.3,266.5 L496.5,266.6 L496.6,259.1 L496.7,269.0 L496.8,274.4 L497.0,259.7 L497.1,264.7 L497.2,268.2 L497.4,255.5 L497.5,254.8 L497.6,268.2 L497.7,277.8 L497.9,252.7 L498.0,261.3 L498.1,257.3 L498.2,253.6 L498.4,262.1 L498.5,272.4 L498.6,270.6 L498.7,254.7 L498.9,262.7 L499.0,246.4 L499.1,261.9 L499.2,256.7 L499.4,261.2 L499.5,245.7 L499.6,251.3 L499.7,257.2 L499.8,254.3 L500.0,249.4 L500.1,245.0 L500.2,252.6 L500.3,250.8 L500.5,247.2 L500.6,242.5 L500.7,253.8 L500.8,245.2 L500.9,244.3 L501.1,246.3 L501.2,240.9 L501.3,251.2 L501.4,243.1 L501.5,239.6 L501.7,248.9 L501.8,245.7 L501.9,252.6 L502.0,249.4 L502.1,254.3 L502.3,251.5 L502.4,244.2 L502.5,248.3 L502.6,248.2 L502.7,256.0 L502.9,255.7 L503.0,255.5 L503.1,253.0 L503.2,252.0 L503.3,246.5 L503.4,250.6 L503.6,256.0 L503.7,255.8 L503.8,259.9 L503.9,252.1 L504.0,251.4 L504.1,257.4 L504.3,250.0 L504.4,243.2 L504.5,252.1 L504.6,244.3 L504.7,247.3 L504.8,269.3 L505.0,258.0 L505.1,256.9 L505.2,250.3 L505.3,253.9 L505.4,254.6 L505.5,269.7 L505.7,257.9 L505.8,255.0 L505.9,250.0 L506.0,260.9 L506.1,266.6 L506.2,263.6 L506.3,268.0 L506.5,263.6 L506.6,267.7 L506.7,257.1 L506.8,272.3 L506.9,264.1 L507.0,261.1 L507.1,261.0 L507.2,265.2 L507.4,268.7 L507.5,275.4 L507.6,281.1 L507.7,260.4 L507.8,274.5 L507.9,269.7 L508.0,266.2 L508.1,272.4 L508.2,276.0 L508.4,278.2 L508.5,279.9 L508.6,270.8 L508.7,274.7 L508.8,268.7 L508.9,265.7 L509.0,272.7 L509.1,278.1 L509.2,296.9 L509.3,278.9 L509.5,274.3 L509.6,297.1 L509.7,287.0 L509.8,291.5 L509.9,280.0 L510.0,281.2 L510.1,277.8 L510.2,288.2 L510.3,282.7 L510.4,282.7 L510.5,295.1 L510.7,287.1 L510.8,278.7 L510.9,281.9 L511.0,285.9 L511.1,283.8 L511.2,299.2 L511.3,278.3 L511.4,278.6 L511.5,281.4 L511.6,304.1 L511.7,285.0 L511.8,293.8 L511.9,272.2 L512.0,297.1 L512.2,287.0 L512.3,321.9 L512.4,303.0 L512.5,290.4 L512.6,311.9 L512.7,281.9 L512.8,307.9 L512.9,310.3 L513.0,293.2 L513.1,316.9 L513.2,295.8 L513.3,288.5 L513.4,288.5 L513.5,288.7 L513.6,311.0 L513.7,285.6 L513.8,301.4 L513.9,283.4 L514.0,316.5 L514.1,307.5 L514.2,305.1 L514.3,311.6 L514.5,288.8 L514.6,315.0 L514.7,315.6 L514.8,298.8 L514.9,303.2 L515.0,316.4 L515.1,295.5 L515.2,287.1 L515.3,295.2 L515.4,300.2 L515.5,293.7 L515.6,286.7 L515.7,313.8 L515.8,294.1 L515.9,288.8 L516.0,312.1 L516.1,294.5 L516.2,307.5 L516.3,293.7 L516.4,301.7 L516.5,272.7 L516.6,313.5 L516.7,319.3 L516.8,307.0 L516.9,309.8 L517.0,306.6 L517.1,300.1 L517.2,298.1 L517.3,297.8 L517.4,307.7 L517.5,335.1 L517.6,306.2 L517.7,279.3 L517.8,298.9 L517.9,281.4 L518.0,299.7 L518.1,307.0 L518.2,310.7 L518.3,293.6 L518.4,300.7 L518.5,300.2 L518.6,299.9 L518.7,298.8 L518.8,292.7 L518.9,302.5 L519.0,313.0 L519.1,299.3 L519.2,315.1 L519.3,312.8 L519.4,298.8 L519.5,299.8 L519.6,312.1 L519.7,282.8 L519.7,319.2 L519.8,310.8 L519.9,304.3 L520.0,291.6 L520.1,280.7 L520.2,281.1 L520.3,299.9 L520.4,294.6 L520.5,275.9 L520.6,282.6 L520.7,318.5 L520.8,281.4 L520.9,308.7 L521.0,297.3 L521.1,289.5 L521.2,300.6 L521.3,332.8 L521.4,292.4 L521.5,283.1 L521.6,331.0 L521.7,313.8 L521.8,303.2 L521.9,293.5 L521.9,309.4 L522.0,310.8 L522.1,315.8 L522.2,294.0 L522.3,287.9 L522.4,303.4 L522.5,299.3 L522.6,303.8 L522.7,304.7 L522.8,319.5 L522.9,325.1 L523.0,307.2 L523.1,318.7 L523.2,338.8 L523.3,318.8 L523.4,315.0 L523.4,320.9 L523.5,330.1 L523.6,327.0 L523.7,340.7 L523.8,332.2 L523.9,331.4 L524.0,335.8 L524.1,328.6 L524.2,347.3 L524.3,352.0 L524.4,348.1 L524.5,352.7 L524.5,336.0 L524.6,346.9 L524.7,356.9 L524.8,353.9 L524.9,346.3 L525.0,351.8 L525.1,369.4 L525.2,363.4 L525.3,398.5 L525.4,372.2 L525.5,369.4 L525.5,365.3 L525.6,373.2 L525.7,374.2 L525.8,380.9 L525.9,388.1 L526.0,389.7 L526.1,384.5 L526.2,378.1 L526.3,401.9 L526.4,393.4 L526.4,381.5 L526.5,370.8 L526.6,386.3 L526.7,400.0 L526.8,380.2 L526.9,396.3 L527.0,395.8 L527.1,396.9 L527.2,411.6 L527.2,420.5 L527.3,407.1 L527.4,403.4 L527.5,404.5 L527.6,418.2 L527.7,407.3 L527.8,422.1 L527.9,405.6 L528.0,413.8 L528.0,435.1 L528.1,423.7 L528.2,423.1 L528.3,404.6 L528.4,418.0 L528.5,412.3 L528.6,428.8 L528.7,422.8 L528.7,448.7 L528.8,422.1 L528.9,431.3 L529.0,435.4 L529.1,430.3 L529.2,419.5 L529.3,432.4 L529.3,439.7 L529.4,427.0 L529.5,445.5 L529.6,432.8 L529.7,440.6 L529.8,432.5 L529.9,445.4 L530.0,449.5 L530.0,426.8 L530.1,425.9 L530.2,442.8 L530.3,437.6 L530.4,470.1 L530.5,444.2 L530.5,437.5 L530.6,455.7 L530.7,442.0 L530.8,454.8 L530.9,458.7 L531.0,469.9 L531.1,466.1 L531.1,456.8 L531.2,493.6 L531.3,463.7 L531.4,468.2 L531.5,461.5 L531.6,477.8 L531.6,493.0" stroke="#1a5ea8" stroke-width="1.25" stroke-linejoin="miter" stroke-miterlimit="2"/>
</g>
<rect x="86.45" y="55.2" width="445.2" height="274.7" fill="none" stroke="#111" stroke-width="1.4"/>
<g opacity="0.999">
<text transform="translate(59.38,61.80) scale(1.0272,1.0075)" font-size="20" fill="#111" stroke="#111" stroke-width="0.12">60</text>
<text transform="translate(59.80,116.74) scale(1.0053,1.0075)" font-size="20" fill="#111" stroke="#111" stroke-width="0.12">40</text>
<text transform="translate(59.27,171.68) scale(1.0328,1.0075)" font-size="20" fill="#111" stroke="#111" stroke-width="0.12">20</text>
<text transform="translate(68.70,226.62) scale(1.1310,1.0075)" font-size="20" fill="#111" stroke="#111" stroke-width="0.12">0</text>
<text transform="translate(59.27,281.56) scale(1.0328,1.0075)" font-size="20" fill="#111" stroke="#111" stroke-width="0.12">20</text>
<path d="M45.3,275.7 H57.6" stroke="#111" stroke-width="1.1"/>
<text transform="translate(59.80,336.50) scale(1.0053,1.0075)" font-size="20" fill="#111" stroke="#111" stroke-width="0.12">40</text>
<path d="M45.3,330.6 H57.6" stroke="#111" stroke-width="1.1"/>
<text transform="translate(129.98,354.50) scale(1.0114,1.0150)" font-size="20" fill="#111" stroke="#111" stroke-width="0.12">10</text>
<text transform="translate(149.77,347.30) scale(0.8125,0.7424)" font-size="20" fill="#111" stroke="#111" stroke-width="0.12">2</text>
<text transform="translate(323.56,354.50) scale(1.0114,1.0150)" font-size="20" fill="#111" stroke="#111" stroke-width="0.12">10</text>
<text transform="translate(343.37,347.30) scale(0.7831,0.7424)" font-size="20" fill="#111" stroke="#111" stroke-width="0.12">3</text>
<text transform="translate(517.13,354.50) scale(1.0114,1.0150)" font-size="20" fill="#111" stroke="#111" stroke-width="0.12">10</text>
<text transform="translate(537.37,347.30) scale(0.6989,0.7424)" font-size="20" fill="#111" stroke="#111" stroke-width="0.12">4</text>
<text transform="translate(231.76,382.40) scale(1.0657,1.0153)" font-size="20" fill="#111" stroke="#111" stroke-width="0.12">Frequency</text>
<text transform="translate(327.45,383.1) skewX(-10) scale(0.958,1.087)" font-size="20" font-style="italic" fill="#111">f</text>
<text transform="translate(345.00,384.55) scale(1.4909,1.2463)" font-size="20" fill="#111" stroke="#111" stroke-width="0.12">/</text>
<text transform="translate(360.44,382.40) scale(1.1041,1.0153)" font-size="20" fill="#111" stroke="#111" stroke-width="0.12">Hz</text>
<text transform="translate(23.20,272.64) rotate(-90) scale(1.0282,1.0303)" font-size="20" fill="#111">SPL</text>
<text transform="translate(23.20,232.72) rotate(-90) scale(0.9231,1.0229)" font-size="20" font-style="italic" fill="#111">L</text>
<text transform="translate(26.56,220.79) rotate(-90) scale(0.9663,0.8467)" font-size="20" fill="#111">p</text>
<text transform="translate(24.65,203.20) rotate(-90) scale(1.6545,1.2313)" font-size="20" fill="#111">/</text>
<text transform="translate(23.20,187.38) rotate(-90) scale(0.9770,1.0791)" font-size="20" fill="#111">dB</text>
<text transform="translate(23.20,162.62) rotate(-90) scale(1.2030,1.0382)" font-size="20" fill="#111">H</text>
<text transform="translate(23.20,144.73) rotate(-90) scale(1.2692,1.0435)" font-size="20" fill="#111">z</text>
<path d="M10.4,132.7 V124.6" stroke="#111" stroke-width="1"/>
<text transform="translate(15.30,123.64) rotate(-90) scale(0.8451,0.7197)" font-size="20" fill="#111">1</text>
<rect x="216.0" y="8.2" width="315.2" height="32.2" fill="#fff" stroke="#111" stroke-width="1.3" stroke-linejoin="round"/>
<path d="M222.4,24.4 H255.7" stroke="#cc1233" stroke-width="1.2"/>
<text transform="translate(259.95,29.80) scale(1.0833,1.0229)" font-size="20" fill="#111" stroke="#111" stroke-width="0.12">Measurement</text>
<path d="M388.7,24.4 H422.7" stroke="#1a5ea8" stroke-width="1.2"/>
<text transform="translate(425.89,29.80) scale(1.0858,1.0288)" font-size="20" fill="#111" stroke="#111" stroke-width="0.12">Simulation</text>
<rect x="414.8" y="61.4" width="112.2" height="53.0" fill="#fff" stroke="#111" stroke-width="1.3"/>
<text transform="translate(421.01,81.50) scale(0.9675,1.0000)" font-size="20" fill="#cc1233" stroke="#cc1233" stroke-width="0.12">46.9</text>
<text transform="translate(458.76,81.50) scale(1.0507,1.0504)" font-size="20" fill="#cc1233" stroke="#cc1233" stroke-width="0.12">dB</text>
<text transform="translate(484.10,83.65) scale(1.8182,1.2463)" font-size="20" fill="#cc1233" stroke="#cc1233" stroke-width="0.12">/</text>
<text transform="translate(494.53,81.50) scale(1.1222,1.0000)" font-size="20" fill="#cc1233" stroke="#cc1233" stroke-width="0.12">Hz</text>
<text transform="translate(421.01,106.40) scale(0.9675,1.0000)" font-size="20" fill="#1a5ea8" stroke="#1a5ea8" stroke-width="0.12">41.9</text>
<text transform="translate(458.76,106.40) scale(1.0507,1.0504)" font-size="20" fill="#1a5ea8" stroke="#1a5ea8" stroke-width="0.12">dB</text>
<text transform="translate(484.10,108.55) scale(1.8182,1.2463)" font-size="20" fill="#1a5ea8" stroke="#1a5ea8" stroke-width="0.12">/</text>
<text transform="translate(494.53,106.40) scale(1.1222,1.0000)" font-size="20" fill="#1a5ea8" stroke="#1a5ea8" stroke-width="0.12">Hz</text>
</g>
</svg>
</body></html>
